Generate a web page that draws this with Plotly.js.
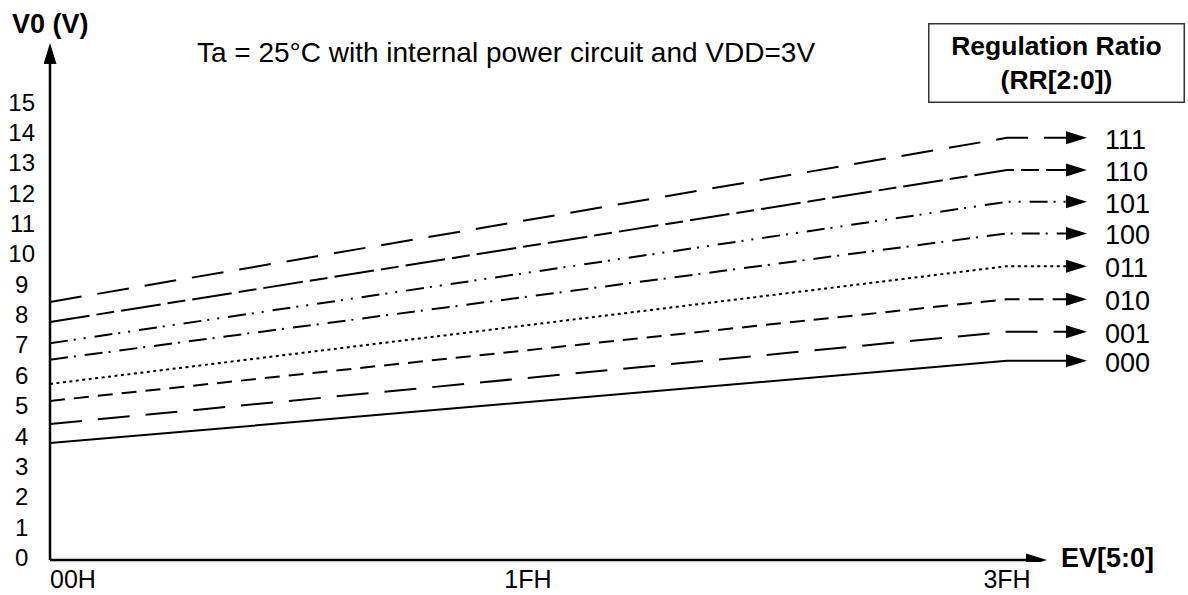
<!DOCTYPE html>
<html>
<head>
<meta charset="utf-8">
<script src="https://cdn.plot.ly/plotly-3.0.1.min.js"></script>
<style>html,body{margin:0;padding:0;background:#fff;}#chart{width:1188px;height:595px;}</style>
</head>
<body>
<div id="chart"></div>
<script>
// ---- data ----
const rrCodes   = ['111', '110', '101', '100', '011', '010', '001', '000'];
const v0AtEV00  = [8.42, 7.76, 7.06, 6.52, 5.72, 5.16, 4.40, 3.77];   // V0 at EV = 00H
const v0AtEV3F  = [13.83, 12.77, 11.72, 10.68, 9.60, 8.51, 7.44, 6.48]; // V0 at EV = 3FH
const evTickVals = [0, 31, 63];
const evTickText = ['00H', '1FH', '3FH'];
const v0TickVals = [0,1,2,3,4,5,6,7,8,9,10,11,12,13,14,15];
const dashStyles = ['32px,16px', '40px,7px,18px,7px', '18px,6px,2px,8px,2px,9px', '18px,6px,2px,9px',
                    '3px,3.5px', '15px,9px', '32px,16px', 'solid'];

// ---- layout geometry ----
const W = 1188, H = 595;
const M = {l: 44, r: 0, t: 0, b: 33};
const X0_PX = 50, X63_PX = 1007;            // pixel of EV=00H and EV=3FH
const Y0_PX = 557.5, Y15_PX = 102.3;         // pixel of V0=0 and V0=15
const xScale = (X63_PX - X0_PX) / 63;
const yScale = (Y0_PX - Y15_PX) / 15;
const xRange = [(M.l - X0_PX) / xScale, (W - M.r - X0_PX) / xScale];
const yRange = [(Y0_PX - (H - M.b)) / yScale, (Y0_PX - M.t) / yScale];
const EV_END = 63;                                 // knee at 3FH
const ARROW_TIP = (1087 - X0_PX) / xScale;         // series arrows
const XAXIS_TIP = (1047 - X0_PX) / xScale;
const YAXIS_TIP = (Y0_PX - 43) / yScale;
const AXIS_Y = (Y0_PX - 560) / yScale;
const HEAD_LEN = 21;

const font = 'Liberation Sans, Arial, Helvetica, sans-serif';
const pw = W - M.l - M.r, ph = H - M.t - M.b;
const pxX = p => (p - M.l) / pw;
const pxY = p => (H - M.b - p) / ph;

const traces = rrCodes.map((code, i) => ({
  type: 'scatter', mode: 'lines',
  x: [0, EV_END, ARROW_TIP - HEAD_LEN / xScale],
  y: [v0AtEV00[i], v0AtEV3F[i], v0AtEV3F[i]],
  line: {color: '#000', width: 2, dash: dashStyles[i]},
  hoverinfo: 'skip', name: code
}));

const shapes = [];
// series arrowheads
rrCodes.forEach((code, i) => {
  shapes.push({type: 'path', xref: 'x', yref: 'y', xsizemode: 'pixel', ysizemode: 'pixel',
    xanchor: ARROW_TIP, yanchor: v0AtEV3F[i],
    path: `M0,0 L-${HEAD_LEN},6.5 L-${HEAD_LEN},-6.5 Z`,
    fillcolor: '#000', line: {width: 0}});
});
// axes
shapes.push({type: 'line', xref: 'x', yref: 'y', x0: 0, x1: XAXIS_TIP - 18 / xScale, y0: AXIS_Y, y1: AXIS_Y,
  line: {color: '#000', width: 2.5}});
shapes.push({type: 'line', xref: 'x', yref: 'y', x0: 0, x1: 0, y0: AXIS_Y, y1: YAXIS_TIP - 18 / yScale,
  line: {color: '#000', width: 2.5}});
shapes.push({type: 'path', xref: 'x', yref: 'y', xsizemode: 'pixel', ysizemode: 'pixel',
  xanchor: XAXIS_TIP, yanchor: AXIS_Y, path: 'M0,0 L-21,6.5 L-21,-6.5 Z', fillcolor: '#000', line: {width: 0}});
shapes.push({type: 'path', xref: 'x', yref: 'y', xsizemode: 'pixel', ysizemode: 'pixel',
  xanchor: 0, yanchor: YAXIS_TIP, path: 'M0,0 L6.5,-21 L-6.5,-21 Z', fillcolor: '#000', line: {width: 0}});

const annotations = rrCodes.map((code, i) => ({
  xref: 'x', yref: 'y', x: ARROW_TIP, y: v0AtEV3F[i], text: code, showarrow: false,
  xanchor: 'left', yanchor: 'middle', xshift: 16, yshift: -2,
  font: {family: font, size: 27, color: '#000'}
}));
annotations.push({xref: 'paper', yref: 'paper', x: pxX(50.5), y: pxY(24), text: '<b>V0 (V)</b>',
  showarrow: false, xanchor: 'center', yanchor: 'middle', font: {family: font, size: 27, color: '#000'}});
annotations.push({xref: 'paper', yref: 'paper', x: pxX(1059), y: pxY(558), text: '<b>EV[5:0]</b>',
  showarrow: false, xanchor: 'left', yanchor: 'middle', font: {family: font, size: 27, color: '#000'}});
annotations.push({xref: 'paper', yref: 'paper', x: pxX(928), y: pxY(23),
  text: '<b>Regulation Ratio</b><br><b>(RR[2:0])</b>', showarrow: false, xanchor: 'left', yanchor: 'top',
  width: 250, height: 73, borderpad: 2, borderwidth: 1.5, bordercolor: '#333', bgcolor: '#fff', align: 'center',
  font: {family: font, size: 26.5, color: '#000'}});

const tickFontX = {family: font, size: 25, color: '#000'};
const layout = {
  width: W, height: H, margin: M,
  paper_bgcolor: '#fff', plot_bgcolor: '#fff',
  showlegend: false, hovermode: false,
  title: {text: 'Ta = 25°C with internal power circuit and VDD=3V', xref: 'container', yref: 'container',
    x: 506 / W, xanchor: 'center', y: 1 - 52 / H, yanchor: 'middle',
    font: {family: font, size: 28, color: '#000'}},
  // 1FH and 3FH are centred on their ticks
  xaxis: {range: xRange, showgrid: false, zeroline: false, showline: false, ticks: '',
    tickmode: 'array', tickvals: evTickVals.slice(1),
    ticktext: evTickText.slice(1).map((t, i) => (i === 0 ? '\u00a0'.repeat(2) : '') + t),
    tickfont: tickFontX},
  // 00H starts at its tick (left-aligned to the axis origin)
  xaxis2: {range: xRange, overlaying: 'x', anchor: 'y', side: 'bottom',
    showgrid: false, zeroline: false, showline: false, ticks: '',
    tickmode: 'array', tickvals: evTickVals.slice(0, 1), ticktext: evTickText.slice(0, 1),
    ticklabelposition: 'outside right', tickfont: tickFontX},
  yaxis: {range: yRange, showgrid: false, zeroline: false, showline: false, ticks: '',
    tickmode: 'array', tickvals: v0TickVals,
    ticktext: v0TickVals.map(v => v < 10 ? v + '\u2008' : String(v)),
    tickfont: {family: font, size: 24, color: '#000'}, ticklabelstandoff: 8},
  shapes: shapes, annotations: annotations
};

// an empty helper trace so the second x axis is drawn
traces.push({type: 'scatter', mode: 'lines', x: [], y: [], xaxis: 'x2', yaxis: 'y', hoverinfo: 'skip'});

Plotly.newPlot('chart', traces, layout, {displayModeBar: false, staticPlot: true});
</script>
</body>
</html>
